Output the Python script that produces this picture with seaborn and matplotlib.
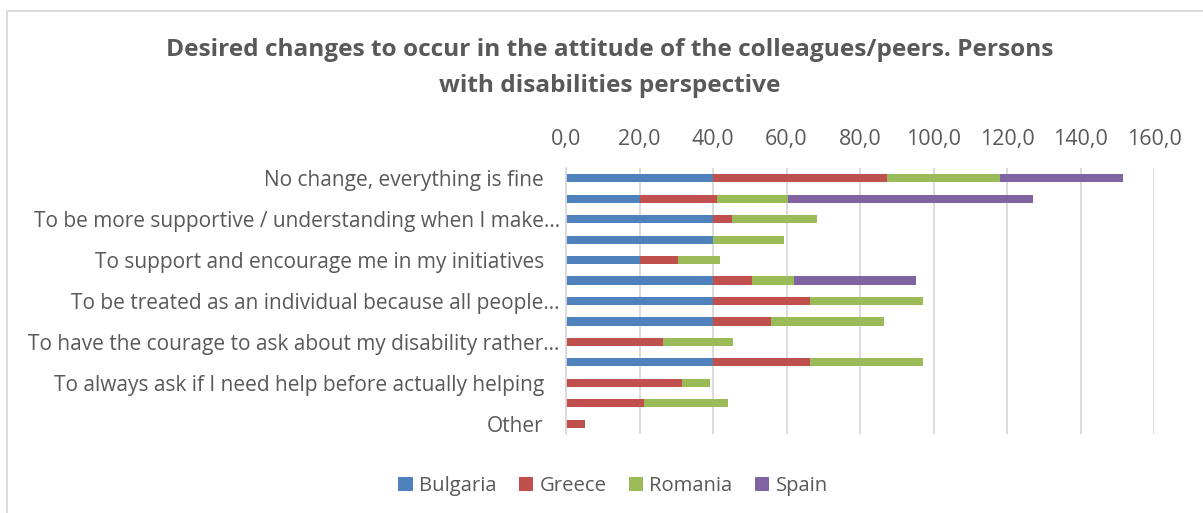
import numpy as np
import pandas as pd
import matplotlib
matplotlib.use("Agg")
import matplotlib.pyplot as plt
import matplotlib.transforms as mtransforms
from matplotlib.patches import Rectangle, Patch
from matplotlib.ticker import FuncFormatter
import seaborn as sns

# Survey responses (%), one entry per answer option, top to bottom
categories = [
    "No change, everything is fine",
    "Response 2",
    "To be more supportive / understanding when I make\u2026",
    "Response 4",
    "To support and encourage me in my initiatives",
    "Response 6",
    "To be treated as an individual because all people\u2026",
    "Response 8",
    "To have the courage to ask about my disability rather\u2026",
    "Response 10",
    "To always ask if I need help before actually helping",
    "Response 12",
    "Other",
]
# only every other option gets a visible label on the axis
shown_labels = [c if i % 2 == 0 else "" for i, c in enumerate(categories)]

bulgaria = [40.0, 20.0, 40.0, 40.0, 20.0, 40.0, 40.0, 40.0, 0.0, 40.0, 0.0, 0.0, 0.0]
greece = [47.4, 21.1, 5.3, 0.0, 10.5, 10.5, 26.3, 15.8, 26.3, 26.3, 31.6, 21.1, 5.3]
romania = [30.8, 19.2, 23.1, 19.2, 11.5, 11.5, 30.8, 30.8, 19.2, 30.8, 7.7, 23.1, 0.0]
spain = [33.3, 66.7, 0.0, 0.0, 0.0, 33.3, 0.0, 0.0, 0.0, 0.0, 0.0, 0.0, 0.0]

countries = ["Bulgaria", "Greece", "Romania", "Spain"]
colors = ["#4F81BD", "#C0504D", "#9BBB59", "#8064A2"]
tick_values = [0, 20, 40, 60, 80, 100, 120, 140, 160]

sns.set_theme(style="white")
plt.rcParams["font.family"] = ["Open Sans", "DejaVu Sans"]
text_color = "#595959"

df = pd.DataFrame({"category": categories, "Bulgaria": bulgaria,
                   "Greece": greece, "Romania": romania, "Spain": spain})
cum = df[countries].cumsum(axis=1)

fig = plt.figure(figsize=(12.03, 5.13), dpi=100)
ax = fig.add_axes([566 / 1203, 1 - 434 / 513, (1154 - 566) / 1203, (434 - 168) / 513])

# stacked bars: draw cumulative totals from the outermost segment inwards
for country, color in zip(reversed(countries), reversed(colors)):
    sns.barplot(x=cum[country], y=df["category"], orient="h", color=color,
                width=0.4, saturation=1, edgecolor="none", ax=ax, order=categories)

ax.set_xlim(0, 160)
ax.set_xticks(tick_values)
ax.xaxis.set_major_formatter(FuncFormatter(lambda v, p: f"{v:.1f}".replace(".", ",")))
ax.xaxis.tick_top()
ax.tick_params(axis="x", length=0, pad=13, labelsize=15.5, labelcolor=text_color)
ax.tick_params(axis="y", length=0, pad=16, labelsize=15, labelcolor=text_color)
ax.set_yticks(range(len(categories)))
ax.set_yticklabels(shown_labels)
# truncated labels sit a little closer to the axis
for lbl in ax.get_yticklabels():
    if lbl.get_text().endswith("\u2026"):
        lbl.set_transform(lbl.get_transform() +
                          mtransforms.ScaledTranslation(16 / 100, 0, fig.dpi_scale_trans))
ax.set_xlabel("")
ax.set_ylabel("")
ax.grid(axis="x", color="#D9D9D9", linewidth=1.3)
ax.set_axisbelow(True)
for side in ["top", "right", "bottom"]:
    ax.spines[side].set_visible(False)
ax.spines["left"].set_color("#D9D9D9")
ax.spines["left"].set_linewidth(1.3)
ax.set_ylim(len(categories) - 0.5, -0.5)

fig.text(610 / 1203, 1 - 50 / 513, "Desired changes to occur in the attitude of the colleagues/peers. Persons",
         ha="center", va="center", fontsize=17.6, fontweight="bold", color=text_color)
fig.text(610 / 1203, 1 - 86 / 513, "with disabilities perspective",
         ha="center", va="center", fontsize=17.6, fontweight="bold", color=text_color)

handles = [Patch(facecolor=c, edgecolor="none", label=n) for n, c in zip(countries, colors)]
fig.legend(handles=handles, loc="center", bbox_to_anchor=(613 / 1203, 1 - 486 / 513),
           ncol=4, frameon=False, fontsize=14.6, handlelength=0.72, handleheight=0.72,
           handletextpad=0.3, columnspacing=1.1, labelcolor=text_color)

fig.patches.append(Rectangle((7 / 1203, -0.05), 1.1, 1 - 11 / 513 + 0.05,
                             transform=fig.transFigure, fill=False,
                             edgecolor="#D9D9D9", linewidth=1.3))

fig.savefig("out.png", dpi=100)
